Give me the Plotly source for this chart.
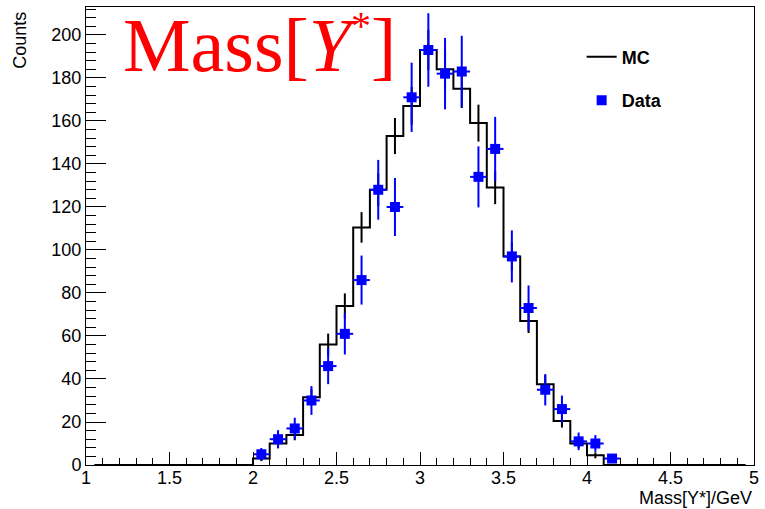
import plotly.graph_objects as go

# ---------------- data ----------------
bin_centers = [round(1.05 + 0.1 * i, 2) for i in range(40)]  # 40 bins from 1 to 5
mc_counts = [0, 0, 0, 0, 0, 0, 0, 0, 0, 0,
             3, 10, 14, 31.5, 56, 74, 110.5, 128, 153, 167,
             193, 184, 175, 159, 129, 97, 67, 37.5, 20.5, 10,
             4.5, 0, 0, 0, 0, 0, 0, 0, 0, 0]
mc_err = [0, 0, 0, 0, 0, 0, 0, 0, 0, 0,
          1.2, 2.2, 2.5, 3.8, 5.1, 5.8, 7.1, 7.7, 8.4, 8.8,
          9.4, 9.2, 9.0, 8.6, 7.7, 6.7, 5.6, 4.2, 3.1, 2.2,
          1.4, 0, 0, 0, 0, 0, 0, 0, 0, 0]

data_x = [2.05, 2.15, 2.25, 2.35, 2.45, 2.55, 2.65, 2.75, 2.85, 2.95, 3.05,
          3.15, 3.25, 3.35, 3.45, 3.55, 3.65, 3.75, 3.85, 3.95, 4.05, 4.15]
data_counts = [5, 12, 17, 30, 46, 61, 86, 128, 120, 171, 193,
               182, 183, 134, 147, 97, 73, 35, 26, 11, 10, 3]
data_err = [2.9, 4.2, 5.0, 6.7, 8.4, 9.6, 11.4, 13.9, 13.5, 16.1, 17.1,
            16.6, 16.6, 14.2, 14.9, 12.1, 10.5, 7.3, 6.3, 4.1, 3.9, 2.0]
bin_half_width = 0.05

x_ticks = [1, 1.5, 2, 2.5, 3, 3.5, 4, 4.5, 5]
x_tick_labels = ["1", "1.5", "2", "2.5", "3", "3.5", "4", "4.5", "5"]
y_ticks = [0, 20, 40, 60, 80, 100, 120, 140, 160, 180, 200]

# ---------------- figure ----------------
fig = go.Figure()

fig.add_trace(go.Scatter(
    x=bin_centers, y=mc_counts, mode="lines", line_shape="hvh",
    line=dict(color="black", width=2), name="MC", legendgroup="mc",
))
mc_x_nz = [x for x, v in zip(bin_centers, mc_counts) if v > 0]
mc_y_nz = [v for v in mc_counts if v > 0]
mc_e_nz = [e for e, v in zip(mc_err, mc_counts) if v > 0]
fig.add_trace(go.Scatter(
    x=mc_x_nz, y=mc_y_nz, mode="markers", marker=dict(size=0.1, color="black"),
    error_y=dict(type="data", array=mc_e_nz, color="black", thickness=2, width=0),
    showlegend=False, legendgroup="mc", hoverinfo="skip",
))
fig.add_trace(go.Scatter(
    x=data_x, y=data_counts, mode="markers", name="Data", legendgroup="data",
    marker=dict(symbol="square", size=10, color="#0000ff"),
    error_y=dict(type="data", array=data_err, color="#0000ff", thickness=2, width=0),
    error_x=dict(type="constant", value=bin_half_width, color="#0000ff", thickness=2, width=0),
))

axis_font = dict(family="Liberation Sans", size=18, color="black")

fig.update_layout(
    width=765, height=509,
    margin=dict(l=86, r=11, t=7, b=44),
    paper_bgcolor="white", plot_bgcolor="white",
    showlegend=True,
    legend=dict(
        x=0.742, y=0.931, xanchor="left", yanchor="top",
        font=dict(family="Liberation Sans", size=18, color="black", weight="bold"),
        traceorder="grouped", tracegroupgap=17, itemwidth=30,
        bgcolor="rgba(0,0,0,0)",
    ),
    xaxis=dict(
        range=[1, 5], tickvals=x_ticks, ticktext=x_tick_labels,
        ticks="inside", ticklen=13, tickwidth=1, tickcolor="black",
        minor=dict(dtick=0.1, tick0=1, ticks="inside", ticklen=7, tickcolor="black", tickwidth=1),
        showline=True, linecolor="black", linewidth=1, mirror=True,
        showgrid=False, zeroline=False, tickfont=axis_font,
        automargin=False, ticklabelstandoff=-4,
    ),
    yaxis=dict(
        range=[0, 213], tickvals=y_ticks,
        ticks="inside", ticklen=20, tickwidth=1, tickcolor="black",
        minor=dict(dtick=4, tick0=0, ticks="inside", ticklen=10, tickcolor="black", tickwidth=1),
        showline=True, linecolor="black", linewidth=1, mirror=True,
        showgrid=False, zeroline=False, tickfont=axis_font,
        automargin=False,
    ),
    annotations=[
        dict(text='Mass[<i>Y</i><sup><span style="font-size:40px">*</span></sup>]',
             xref="paper", yref="paper",
             x=0.052, y=0.821, xanchor="left", yanchor="bottom", showarrow=False,
             font=dict(family="Liberation Serif", size=76, color="red")),
        dict(text="Counts", xref="paper", yref="paper", textangle=-90,
             x=-0.099, y=0.995, xanchor="center", yanchor="top", showarrow=False,
             font=dict(family="Liberation Sans", size=18, color="black")),
        dict(text="Mass[Y*]/GeV", xref="paper", yref="paper",
             x=1.0, y=-0.072, xanchor="right", yanchor="middle", showarrow=False,
             font=dict(family="Liberation Sans", size=18, color="black")),
    ],
)

fig.write_html("out.html", config={"displayModeBar": False},
               post_script="document.body.style.margin='0';")
